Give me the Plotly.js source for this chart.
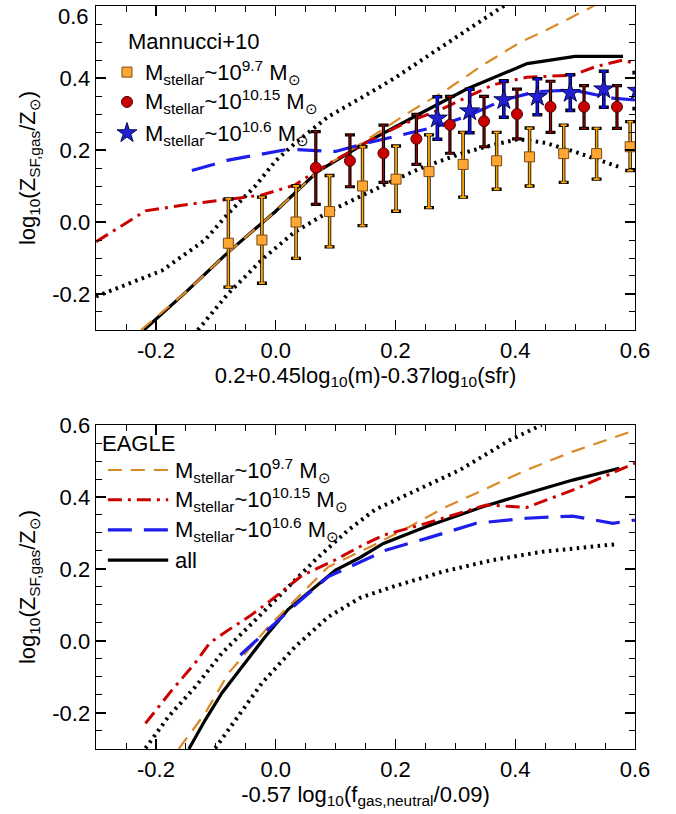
<!DOCTYPE html>
<html><head><meta charset="utf-8">
<script src="https://cdn.plot.ly/plotly-3.0.1.min.js"></script>
<style>html,body{margin:0;padding:0;background:#fff}#c{width:676px;height:814px}</style>
</head><body><div id="c"></div>
<script>
// ---------- Tick labels ----------
const tickVals = [-0.2, 0.0, 0.2, 0.4, 0.6];
const tickText = ['-0.2', '0.0', '0.2', '0.4', '0.6'];
// the top label of the upper panel is written separately so it is not cut at the page edge
const tickTextTopY = ['-0.2', '0.0', '0.2', '0.4', ''];

// ---------- Top panel: Mannucci+10 data ----------
const sqX  = [-0.079,-0.023,0.034,0.090,0.145,0.201,0.256,0.313,0.369,0.424,0.481,0.536,0.592];
const sqY  = [-0.059,-0.050,0.000,0.029,0.100,0.119,0.140,0.160,0.170,0.181,0.190,0.190,0.209];
const sqHi = [0.064,0.069,0.100,0.129,0.209,0.211,0.242,0.249,0.249,0.261,0.269,0.260,0.279];
const sqLo = [-0.181,-0.170,-0.101,-0.069,-0.010,0.030,0.040,0.069,0.091,0.100,0.110,0.119,0.143];

const ciX  = [0.067,0.124,0.180,0.235,0.291,0.348,0.403,0.459,0.515,0.570];
const ciY  = [0.151,0.170,0.191,0.231,0.270,0.280,0.300,0.320,0.320,0.320];
const ciHi = [0.251,0.242,0.269,0.299,0.349,0.349,0.369,0.391,0.379,0.379];
const ciLo = [0.049,0.098,0.110,0.160,0.191,0.209,0.231,0.249,0.260,0.260];

const stX  = [0.270,0.324,0.381,0.437,0.492,0.548,0.604];
const stY  = [0.288,0.308,0.339,0.348,0.359,0.369,0.365];
const stHi = [0.348,0.369,0.392,0.398,0.409,0.419,0.415];
const stLo = [0.230,0.248,0.291,0.298,0.310,0.319,0.315];

// ---------- Top panel: EAGLE curves ----------
const tAllX = [-0.22,-0.15,-0.08,0.0,0.07,0.15,0.24,0.32,0.42,0.50,0.58];
const tAllY = [-0.30,-0.195,-0.085,0.03,0.14,0.22,0.30,0.37,0.44,0.46,0.46];
const tM97X = [-0.225,-0.15,-0.08,0.0,0.07,0.15,0.224,0.285,0.346,0.407,0.458,0.524,0.56];
const tM97Y = [-0.30,-0.195,-0.085,0.03,0.14,0.225,0.306,0.367,0.436,0.498,0.538,0.594,0.63];
const tM1015X = [-0.30,-0.2175,-0.15,-0.084,-0.023,0.0325,0.066,0.149,0.21,0.28,0.363,0.419,0.496,0.535,0.58,0.60];
const tM1015Y = [-0.055,0.031,0.048,0.063,0.075,0.103,0.14,0.219,0.27,0.316,0.381,0.402,0.408,0.432,0.45,0.44];
const tM106X = [-0.14,-0.079,0.021,0.071,0.10,0.149,0.213,0.269,0.324,0.38,0.435,0.496,0.563,0.60];
const tM106Y = [0.143,0.172,0.202,0.198,0.196,0.218,0.244,0.265,0.297,0.339,0.362,0.367,0.344,0.339];
const tUpX = [-0.30,-0.19,-0.118,-0.079,-0.034,0.0,0.033,0.088,0.144,0.199,0.252,0.31,0.375,0.40];
const tUpY = [-0.207,-0.135,-0.05,0.024,0.10,0.17,0.22,0.293,0.346,0.40,0.459,0.524,0.594,0.62];
const tLoX = [-0.13,-0.08,-0.02,0.03,0.09,0.145,0.20,0.25,0.31,0.36,0.405,0.45,0.50,0.575];
const tLoY = [-0.30,-0.20,-0.10,-0.03,0.03,0.075,0.118,0.155,0.19,0.213,0.23,0.22,0.195,0.152];

// ---------- Bottom panel: EAGLE curves ----------
const bAllX = [-0.145,-0.1175,-0.09,-0.056,-0.0175,0.021,0.06,0.10,0.141,0.18,0.252,0.346,0.419,0.496,0.574];
const bAllY = [-0.30,-0.219,-0.145,-0.071,0.012,0.088,0.142,0.197,0.232,0.271,0.318,0.373,0.41,0.447,0.48];
const bM97X = [-0.162,-0.1175,-0.079,-0.04,-0.012,0.021,0.088,0.141,0.213,0.28,0.352,0.419,0.496,0.59];
const bM97Y = [-0.30,-0.20,-0.09,-0.016,0.04,0.095,0.206,0.248,0.308,0.369,0.424,0.475,0.526,0.58];
const bM1015X = [-0.2175,-0.175,-0.134,-0.11,-0.075,-0.045,-0.011,0.044,0.099,0.144,0.18,0.252,0.352,0.419,0.496,0.60];
const bM1015Y = [-0.229,-0.14,-0.06,-0.005,0.035,0.067,0.109,0.182,0.225,0.265,0.294,0.327,0.378,0.371,0.419,0.494];
const bM106X = [-0.059,-0.006,0.0325,0.088,0.141,0.185,0.252,0.335,0.419,0.496,0.563,0.60];
const bM106Y = [-0.039,0.04,0.10,0.179,0.22,0.253,0.285,0.327,0.341,0.347,0.327,0.336];
const bUpX = [-0.2175,-0.179,-0.134,-0.09,-0.045,0.01,0.066,0.121,0.166,0.224,0.3075,0.391,0.444];
const bUpY = [-0.298,-0.21,-0.127,-0.034,0.04,0.132,0.225,0.308,0.365,0.41,0.475,0.558,0.60];
const bLoX = [-0.101,-0.0675,-0.023,0.0325,0.088,0.141,0.196,0.28,0.363,0.446,0.53,0.569];
const bLoY = [-0.298,-0.219,-0.117,-0.016,0.067,0.12,0.151,0.193,0.225,0.248,0.262,0.269];

// ---------- Legend labels ----------
const lab97 = 'M<sub>stellar</sub>~10<sup>9.7</sup> M<sub>⊙</sub>';
const lab1015 = 'M<sub>stellar</sub>~10<sup>10.15</sup> M<sub>⊙</sub>';
const lab106 = 'M<sub>stellar</sub>~10<sup>10.6</sup> M<sub>⊙</sub>';

const C_OR = '#D98A26', C_RED = '#CC0000', C_BLUE = '#1E1EEB';
const SQ_FILL = '#FFA733', CI_FILL = '#C80000', ST_FILL = '#2020D0';
const DOT = '2.5px,4.5px', DASH = '14px,9px', DASHDOT = '14px,6px,3px,6px', LDASH = '24px,12px';
const FS = 22;

function line(x, y, color, width, dash, ax) {
  return {x, y, type:'scatter', mode:'lines', line:{color, width, dash}, xaxis:'x'+ax, yaxis:'y'+ax,
          showlegend:false, hoverinfo:'skip'};
}
function errs(hi, lo, y) { return {plus: hi.map((h,i)=>h-y[i]), minus: y.map((v,i)=>v-lo[i])}; }
function errTrace(x, y, hi, lo, color, thick, w) {
  const e = errs(hi, lo, y);
  return {x, y, type:'scatter', mode:'markers', marker:{size:1, opacity:0}, showlegend:false, hoverinfo:'skip',
          error_y:{type:'data', symmetric:false, array:e.plus, arrayminus:e.minus, color, thickness:thick, width:w},
          xaxis:'x', yaxis:'y'};
}
function markTrace(x, y, hi, lo, ecolor, symbol, size, fill, edge, thick, w) {
  const e = errs(hi, lo, y);
  return {x, y, type:'scatter', mode:'markers', showlegend:false, hoverinfo:'skip',
          marker:{symbol, size, color:fill, line:{color:edge, width:1}},
          error_y:{type:'data', symmetric:false, array:e.plus, arrayminus:e.minus, color:ecolor, thickness:thick, width:w},
          xaxis:'x', yaxis:'y'};
}

const traces = [
  line(tUpX, tUpY, 'black', 4, DOT, ''),
  line(tLoX, tLoY, 'black', 4, DOT, ''),
  line(tAllX, tAllY, 'black', 3.2, 'solid', ''),
  line(tM97X, tM97Y, C_OR, 2.2, DASH, ''),
  line(tM1015X, tM1015Y, C_RED, 3, DASHDOT, ''),
  line(tM106X, tM106Y, C_BLUE, 3.2, LDASH, ''),
  errTrace(sqX, sqY, sqHi, sqLo, 'black', 3.4, 5),
  markTrace(sqX, sqY, sqHi, sqLo, '#FFA500', 'square', 10, SQ_FILL, '#7A4A10', 1.8, 3),
  errTrace(ciX, ciY, ciHi, ciLo, 'black', 3.2, 5),
  markTrace(ciX, ciY, ciHi, ciLo, C_RED, 'circle', 11, CI_FILL, '#500000', 0.9, 3),
  errTrace(stX, stY, stHi, stLo, 'black', 3.6, 5),
  markTrace(stX, stY, stHi, stLo, '#1010F0', 'star', 15, ST_FILL, '#0A0A50', 2, 3),
  line(bUpX, bUpY, 'black', 4, DOT, '2'),
  line(bLoX, bLoY, 'black', 4, DOT, '2'),
  line(bAllX, bAllY, 'black', 3.2, 'solid', '2'),
  line(bM97X, bM97Y, C_OR, 2.2, DASH, '2'),
  line(bM1015X, bM1015Y, C_RED, 3, DASHDOT, '2'),
  line(bM106X, bM106Y, C_BLUE, 3.2, LDASH, '2'),
  // legend keys of the top panel, on a hidden overlay axis (fractions of the panel)
  {x:[0.0575], y:[0.796], type:'scatter', mode:'markers', xaxis:'x3', yaxis:'y3', showlegend:false, hoverinfo:'skip',
   marker:{symbol:'square', size:10, color:SQ_FILL, line:{color:'#7A4A10', width:1}}},
  {x:[0.0575], y:[0.704], type:'scatter', mode:'markers', xaxis:'x3', yaxis:'y3', showlegend:false, hoverinfo:'skip',
   marker:{symbol:'circle', size:11, color:CI_FILL, line:{color:'#500000', width:1}}},
  {x:[0.0575], y:[0.608], type:'scatter', mode:'markers', xaxis:'x3', yaxis:'y3', showlegend:false, hoverinfo:'skip',
   marker:{symbol:'star', size:15, color:ST_FILL, line:{color:'#0A0A50', width:1}}}
];

const FONT = 'Liberation Sans, Arial, Helvetica, sans-serif';
const RANGE = [-0.3001, 0.6001];
function xax(anchor, title) {
  return {anchor, range:RANGE, tickmode:'array', tickvals:tickVals, ticktext:tickText,
    ticks:'inside', ticklen:10, tickwidth:1.2, tickcolor:'black', mirror:'allticks', showline:true,
    linecolor:'black', linewidth:1.4, showgrid:false, zeroline:false, automargin:false, ticklabeloverflow:'allow',
    minor:{tickmode:'linear', tick0:0, dtick:0.05, ticks:'inside', ticklen:6, tickwidth:1, tickcolor:'black'},
    tickfont:{size:FS, color:'black'}, title:{text:title, font:{size:FS, color:'black'}, standoff:4}};
}
function yax(anchor, domain, ttext) {
  return {anchor, domain, range:RANGE, tickmode:'array', tickvals:tickVals, ticktext:ttext,
    ticks:'inside', ticklen:10, tickwidth:1.2, tickcolor:'black', mirror:'allticks', showline:true,
    linecolor:'black', linewidth:1.4, showgrid:false, zeroline:false, automargin:false, ticklabeloverflow:'allow',
    minor:{tickmode:'linear', tick0:0, dtick:0.05, ticks:'inside', ticklen:6, tickwidth:1, tickcolor:'black'},
    tickfont:{size:FS, color:'black'},
    title:{text:'log<sub>10</sub>(Z<sub>SF,gas</sub>/Z<sub>⊙</sub>)', font:{size:FS, color:'black'}, standoff:10}};
}

const topD = [0.5639, 1], botD = [0, 0.4361];
const ann = [];
function txt(xref, yref, x, y, text) {
  ann.push({xref, yref, x, y, text, showarrow:false, xanchor:'left', yanchor:'middle', font:{size:FS, color:'black'}});
}
txt('x domain','y domain', 0.0565, 0.889, 'Mannucci+10');
txt('x domain','y domain', 0.088, 0.796, lab97);
txt('x domain','y domain', 0.088, 0.704, lab1015);
txt('x domain','y domain', 0.088, 0.608, lab106);
txt('x2 domain','y2 domain', 0.008, 0.944, 'EAGLE');
txt('x2 domain','y2 domain', 0.143, 0.861, lab97);
txt('x2 domain','y2 domain', 0.143, 0.769, lab1015);
txt('x2 domain','y2 domain', 0.143, 0.676, lab106);
txt('x2 domain','y2 domain', 0.143, 0.583, 'all');
// top tick label of the upper panel, kept inside the page
ann.push({xref:'x domain', yref:'y domain', x:-0.0085, y:1, xanchor:'right', yanchor:'top', yshift:4,
          text:tickText[4], showarrow:false, font:{size:FS, color:'black'}});

const shapes = [];
function key(y, color, width, dash) {
  shapes.push({type:'line', xref:'x2 domain', yref:'y2 domain', x0:0.022, x1:0.134, y0:y, y1:y,
               line:{color, width, dash}});
}
key(0.861, C_OR, 2.2, DASH);
key(0.769, C_RED, 3, DASHDOT);
key(0.676, C_BLUE, 3.2, LDASH);
key(0.583, 'black', 3.2, 'solid');

const layout = {
  width:676, height:814, paper_bgcolor:'white', plot_bgcolor:'white',
  margin:{l:96, r:41, t:6, b:65}, showlegend:false,
  font:{family:FONT, color:'black', size:FS},
  xaxis: xax('y', '0.2+0.45log<sub>10</sub>(m)-0.37log<sub>10</sub>(sfr)'),
  yaxis: yax('x', topD, tickTextTopY),
  xaxis2: xax('y2', '-0.57 log<sub>10</sub>(f<sub>gas,neutral</sub>/0.09)'),
  yaxis2: yax('x2', botD, tickText),
  xaxis3: {overlaying:'x', range:[0,1], visible:false},
  yaxis3: {overlaying:'y', range:[0,1], visible:false},
  annotations: ann, shapes
};
Plotly.newPlot('c', traces, layout, {staticPlot:true, displayModeBar:false});
</script></body></html>
